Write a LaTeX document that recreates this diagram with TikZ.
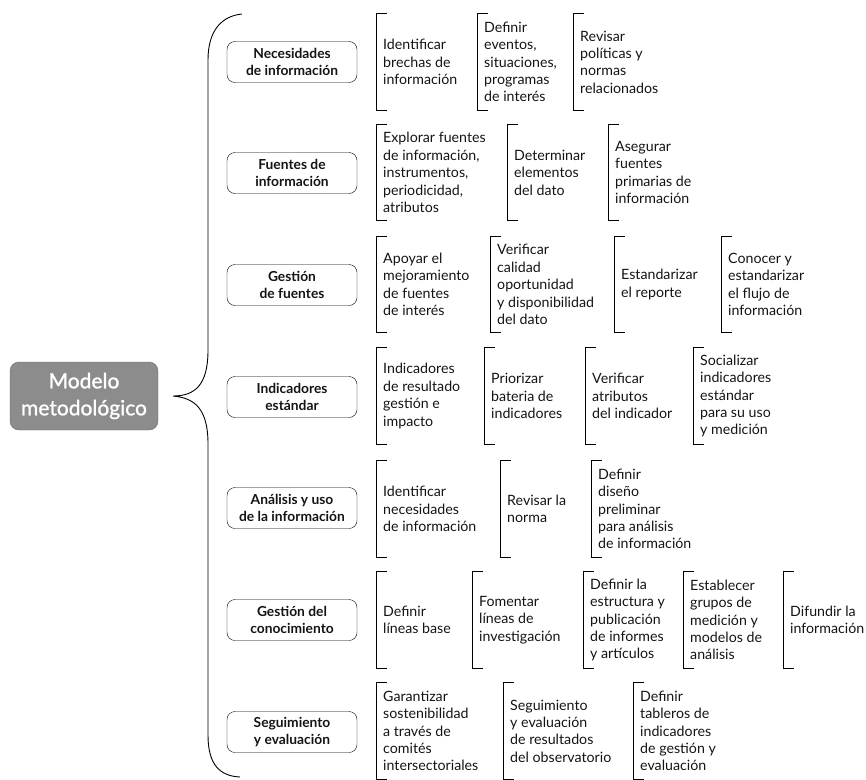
\documentclass[tikz,border=0pt]{standalone}
\usepackage{fontspec}
\setmainfont{Lato}
\newfontfamily\semilato{Lato}[FakeBold=1.2]
\usepackage{xcolor}
\usetikzlibrary{positioning}
\definecolor{modelgray}{RGB}{140,140,140}
\definecolor{modelline}{RGB}{105,105,105}
\definecolor{inktext}{RGB}{20,20,20}

\begin{document}
\begin{tikzpicture}[
    x=1pt, y=-1pt,
    every node/.style={text=inktext},
    root/.style={draw=modelline, fill=modelgray, rounded corners=9pt, align=center, text=white,
        minimum width=148pt, minimum height=68pt, font=\semilato\fontsize{21}{27}\selectfont},
    cat/.style={draw, rounded corners=8pt, align=center, minimum width=130pt, minimum height=41pt,
        font=\bfseries\fontsize{13.8}{17.6}\selectfont},
    item/.style={anchor=west, align=left, inner xsep=7pt, inner ysep=0pt, minimum height=96pt,
        font=\fontsize{14.2}{17.4}\selectfont},
    bracket/.style={line width=0.9pt}
]
    \useasboundingbox (0,0) rectangle (866,779);

    \node[root] (model) at (84,396) {Modelo\\metodológico};

    \node[cat] (nec) at (292,62) {Necesidades\\de información};
    \node[cat] (fue) at (292,173) {Fuentes de\\información};
    \node[cat] (ges) at (292,285) {Gestión\\de fuentes};
    \node[cat] (ind) at (292,397) {Indicadores\\estándar};
    \node[cat] (ana) at (292,508) {Análisis y uso\\de la información};
    \node[cat] (con) at (292,620) {Gestión del\\conocimiento};
    \node[cat] (seg) at (292,732) {Seguimiento\\y evaluación};

    \node[item] (nec1) at (376,62) {Identificar\\brechas de\\información};
    \node[item] (nec2) at (477,62) {Definir\\eventos,\\situaciones,\\programas\\de interés};
    \node[item] (nec3) at (573,62) {Revisar\\políticas y\\normas\\relacionados};

    \node[item] (fue1) at (376,172.5) {Explorar fuentes\\de información,\\instrumentos,\\periodicidad,\\atributos};
    \node[item] (fue2) at (507,172.5) {Determinar\\elementos\\del dato};
    \node[item] (fue3) at (608,172.5) {Asegurar\\fuentes\\primarias de\\información};

    \node[item] (ges1) at (376,284.5) {Apoyar el\\mejoramiento\\de fuentes\\de interés};
    \node[item] (ges2) at (490,284.5) {Verificar\\calidad\\oportunidad\\y disponibilidad\\del dato};
    \node[item] (ges3) at (614,284.5) {Estandarizar\\el reporte};
    \node[item] (ges4) at (721,284.5) {Conocer y\\estandarizar\\el flujo de\\información};

    \node[item] (ind1) at (376,396) {Indicadores\\de resultado\\gestión e\\impacto};
    \node[item] (ind2) at (484,396) {Priorizar\\bateria de\\indicadores};
    \node[item] (ind3) at (585,396) {Verificar\\atributos\\del indicador};
    \node[item] (ind4) at (693,396) {Socializar\\indicadores\\estándar\\para su uso\\y medición};

    \node[item] (ana1) at (376,509) {Identificar\\necesidades\\de información};
    \node[item] (ana2) at (500,509) {Revisar la\\norma};
    \node[item] (ana3) at (591,509) {Definir\\diseño\\preliminar\\para análisis\\de información};

    \node[item] (con1) at (376,620) {Definir\\líneas base};
    \node[item] (con2) at (472,620) {Fomentar\\líneas de\\investigación};
    \node[item] (con3) at (583,620) {Definir la\\estructura y\\publicación\\de informes\\y artículos};
    \node[item] (con4) at (683,620) {Establecer\\grupos de\\medición y\\modelos de\\análisis};
    \node[item] (con5) at (783,620) {Difundir la\\información};

    \node[item] (seg1) at (376,731) {Garantizar\\sostenibilidad\\a través de\\comités\\intersectoriales};
    \node[item] (seg2) at (503,731) {Seguimiento\\y evaluación\\de resultados\\del observatorio};
    \node[item] (seg3) at (633,731) {Definir\\tableros de\\indicadores\\de gestión y\\evaluación};

    \foreach \n in {nec1,nec2,nec3,fue1,fue2,fue3,ges1,ges2,ges3,ges4,ind1,ind2,ind3,ind4,
                    ana1,ana2,ana3,con1,con2,con3,con4,con5,seg1,seg2,seg3}
        \draw[bracket] ([xshift=11pt]\n.north west) -- (\n.north west) -- (\n.south west) -- ([xshift=11pt]\n.south west);

    \draw[line width=0.9pt] (242,14) .. controls (222,16) and (208,30) .. (208,60)
        -- (208,350) .. controls (208,385) and (195,396) .. (model.east -| 173,0)
        .. controls (195,398) and (208,409) .. (208,444)
        -- (208,735) .. controls (208,765) and (220,776) .. (240,777);
\end{tikzpicture}
\end{document}
